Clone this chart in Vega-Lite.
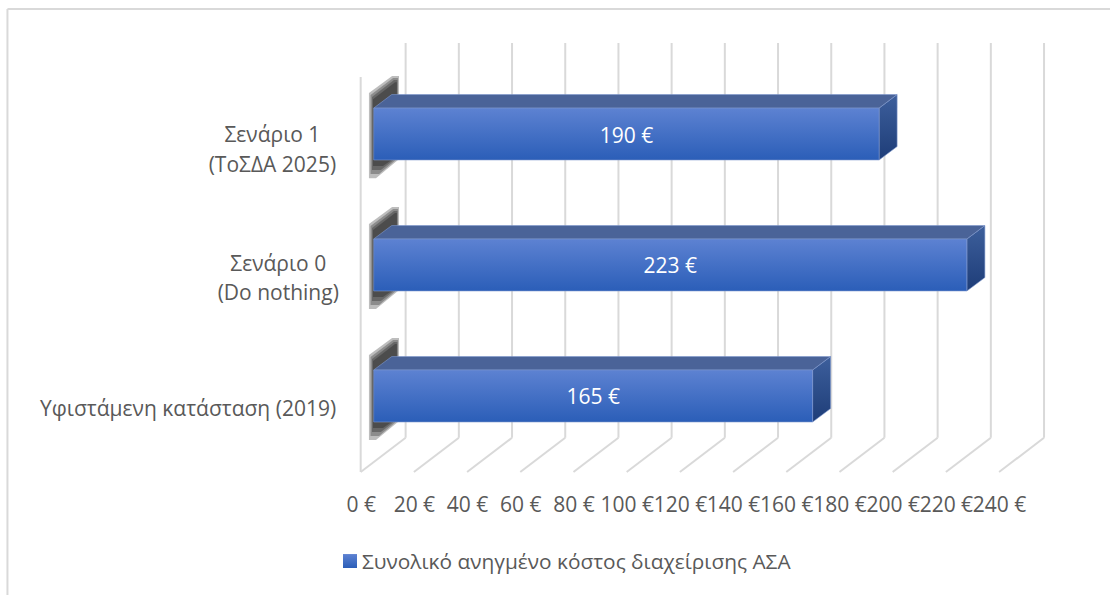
{"$schema":"https://vega.github.io/schema/vega-lite/v6.json","width":1110,"height":595,"padding":0,"autosize":{"type":"none"},"background":"white",
"config":{"view":{"stroke":null},"text":{"font":"Open Sans"},"axis":{"labelFont":"Open Sans"}},
"datasets":{
"bars":[{"scenario":"Σενάριο 1 (ΤοΣΔΑ 2025)","value":190,"label":"190 €","at":95,"low":2.37,"high":2.764,"mid":2.544},{"scenario":"Σενάριο 0 (Do nothing)","value":223,"label":"223 €","at":111.5,"low":1.375,"high":1.77,"mid":1.557},{"scenario":"Υφιστάμενη κατάσταση (2019)","value":165,"label":"165 €","at":82.5,"low":0.38,"high":0.775,"mid":0.562}],
"grid":[{"tick":0,"back":16.9},{"tick":20,"back":36.9},{"tick":40,"back":56.9},{"tick":60,"back":76.9},{"tick":80,"back":96.9},{"tick":100,"back":116.9},{"tick":120,"back":136.9},{"tick":140,"back":156.9},{"tick":160,"back":176.9},{"tick":180,"back":196.9},{"tick":200,"back":216.9},{"tick":220,"back":236.9},{"tick":240,"back":256.9}],
"top":[{"bar":"a","lv":2.764,"a":4.89,"b":194.89},{"bar":"a","lv":2.867,"a":11.66,"b":201.66},{"bar":"b","lv":1.77,"a":4.89,"b":227.89},{"bar":"b","lv":1.872,"a":11.66,"b":234.66},{"bar":"c","lv":0.775,"a":4.89,"b":169.89},{"bar":"c","lv":0.877,"a":11.66,"b":176.66}],
"side":[{"bar":"a","e":194.89,"lo":2.37,"hi":2.764},{"bar":"a","e":201.66,"lo":2.472,"hi":2.867},{"bar":"b","e":227.89,"lo":1.375,"hi":1.77},{"bar":"b","e":234.66,"lo":1.477,"hi":1.872},{"bar":"c","e":169.89,"lo":0.38,"hi":0.775},{"bar":"c","e":176.66,"lo":0.482,"hi":0.877}],
"shade":[
{"k":"a1","lv":3.007,"a":11.8,"b":14.4},{"k":"a1","lv":2.878,"a":3.1,"b":14.4},{"k":"a1","lv":2.369,"a":3.1,"b":14},{"k":"a1","lv":2.232,"a":3.1,"b":5.75},
{"k":"a2","lv":2.992,"a":12.2,"b":14},{"k":"a2","lv":2.863,"a":3.7,"b":14},{"k":"a2","lv":2.369,"a":3.7,"b":13.2},{"k":"a2","lv":2.263,"a":3.7,"b":6.9},
{"k":"a3","lv":2.977,"a":12.5,"b":13.8},{"k":"a3","lv":2.848,"a":4.25,"b":13.8},{"k":"a3","lv":2.369,"a":4.25,"b":12.4},{"k":"a3","lv":2.293,"a":4.25,"b":7.6},
{"k":"a4","lv":2.961,"a":12.9,"b":13.6},{"k":"a4","lv":2.832,"a":4.62,"b":13.6},{"k":"a4","lv":2.369,"a":4.62,"b":11.6},{"k":"a4","lv":2.324,"a":4.62,"b":8.4},
{"k":"b1","lv":2.013,"a":11.8,"b":14.4},{"k":"b1","lv":1.884,"a":3.1,"b":14.4},{"k":"b1","lv":1.375,"a":3.1,"b":14},{"k":"b1","lv":1.238,"a":3.1,"b":5.75},
{"k":"b2","lv":1.998,"a":12.2,"b":14},{"k":"b2","lv":1.869,"a":3.7,"b":14},{"k":"b2","lv":1.375,"a":3.7,"b":13.2},{"k":"b2","lv":1.269,"a":3.7,"b":6.9},
{"k":"b3","lv":1.983,"a":12.5,"b":13.8},{"k":"b3","lv":1.854,"a":4.25,"b":13.8},{"k":"b3","lv":1.375,"a":4.25,"b":12.4},{"k":"b3","lv":1.299,"a":4.25,"b":7.6},
{"k":"b4","lv":1.967,"a":12.9,"b":13.6},{"k":"b4","lv":1.838,"a":4.62,"b":13.6},{"k":"b4","lv":1.375,"a":4.62,"b":11.6},{"k":"b4","lv":1.33,"a":4.62,"b":8.4},
{"k":"c1","lv":1.018,"a":11.8,"b":14.4},{"k":"c1","lv":0.889,"a":3.1,"b":14.4},{"k":"c1","lv":0.38,"a":3.1,"b":14},{"k":"c1","lv":0.243,"a":3.1,"b":5.75},
{"k":"c2","lv":1.003,"a":12.2,"b":14},{"k":"c2","lv":0.874,"a":3.7,"b":14},{"k":"c2","lv":0.38,"a":3.7,"b":13.2},{"k":"c2","lv":0.274,"a":3.7,"b":6.9},
{"k":"c3","lv":0.988,"a":12.5,"b":13.8},{"k":"c3","lv":0.859,"a":4.25,"b":13.8},{"k":"c3","lv":0.38,"a":4.25,"b":12.4},{"k":"c3","lv":0.304,"a":4.25,"b":7.6},
{"k":"c4","lv":0.972,"a":12.9,"b":13.6},{"k":"c4","lv":0.843,"a":4.62,"b":13.6},{"k":"c4","lv":0.38,"a":4.62,"b":11.6},{"k":"c4","lv":0.335,"a":4.62,"b":8.4}],
"names":[{"t":"Σενάριο 1","cx":-33.2,"lv":2.552},{"t":"(ΤοΣΔΑ 2025)","cx":-33.2,"lv":2.324},{"t":"Σενάριο 0","cx":-31,"lv":1.572},{"t":"(Do nothing)","cx":-31,"lv":1.352},{"t":"Υφιστάμενη κατάσταση (2019)","cx":-64.9,"lv":0.471}],
"frame":[{"left":-132.8,"right":281.7,"topLv":3.516,"botLv":-0.934}],
"key":[{"series":"Συνολικό ανηγμένο κόστος διαχείρισης ΑΣΑ","x0":-6.66,"x1":-1.39,"lo":-0.729,"hi":-0.623,"tx":0.5,"ty":-0.69}]
},
"layer":[
{"data":{"name":"frame"},"mark":{"type":"rule","color":"#d9d9d9","strokeWidth":2},"encoding":{
"x":{"field":"left","type":"quantitative","scale":{"domain":[-135.6,281.7],"nice":false,"zero":false},"title":null,"axis":{"values":[0,20,40,60,80,100,120,140,160,180,200,220,240],"labelExpr":"datum.value + ' €'","domain":false,"ticks":false,"grid":false,"offset":-104,"labelPadding":3,"labelFontSize":21,"labelColor":"#595959","labelOverlap":false,"labelBound":false,"labelFlush":false,"labelLimit":200}},
"x2":{"field":"right"},"y":{"field":"topLv","type":"quantitative","scale":{"domain":[-0.934,3.585],"nice":false,"zero":false},"axis":null}}},
{"data":{"name":"frame"},"mark":{"type":"rule","color":"#d9d9d9","strokeWidth":2},"encoding":{
"x":{"field":"left","type":"quantitative"},"y":{"field":"topLv","type":"quantitative"},"y2":{"field":"botLv"}}},
{"data":{"name":"grid"},"mark":{"type":"rule","color":"#d9d9d9","strokeWidth":2},"encoding":{
"x":{"field":"back","type":"quantitative"},"y":{"datum":0.26,"type":"quantitative"},"y2":{"datum":3.258}}},
{"data":{"name":"grid"},"mark":{"type":"rule","color":"#d9d9d9","strokeWidth":2},"encoding":{
"x":{"field":"tick","type":"quantitative"},"x2":{"field":"back"},"y":{"datum":0,"type":"quantitative"},"y2":{"datum":0.26}}},
{"data":{"values":[{"tick":0}]},"mark":{"type":"rule","color":"#d9d9d9","strokeWidth":2},"encoding":{
"x":{"field":"tick","type":"quantitative"},"y":{"datum":0,"type":"quantitative"},"y2":{"datum":3}}},
{"data":{"name":"shade"},"mark":{"type":"area","orient":"horizontal","color":"#000000","opacity":0.26},"encoding":{
"y":{"field":"lv","type":"quantitative"},"x":{"field":"a","type":"quantitative","stack":null},"x2":{"field":"b"},"detail":{"field":"k"}}},
{"data":{"name":"side"},"mark":{"type":"area","orient":"vertical","stroke":"#7d97cc","strokeWidth":0.6,"fill":{"x1":0,"y1":0,"x2":0,"y2":1,"gradient":"linear","stops":[{"offset":0,"color":"#3d5f9c"},{"offset":1,"color":"#1e3d78"}]}},"encoding":{
"x":{"field":"e","type":"quantitative"},"y":{"field":"lo","type":"quantitative","stack":null},"y2":{"field":"hi"},"detail":{"field":"bar"}}},
{"data":{"name":"top"},"mark":{"type":"area","orient":"horizontal","color":"#4a6398","stroke":"#7d97cc","strokeWidth":0.6},"encoding":{
"y":{"field":"lv","type":"quantitative"},"x":{"field":"a","type":"quantitative","stack":null},"x2":{"field":"b"},"detail":{"field":"bar"}}},
{"data":{"name":"bars"},"mark":{"type":"rect","xOffset":13,"x2Offset":13,"stroke":"#7d97cc","strokeWidth":0.6,"fill":{"x1":0,"y1":0,"x2":0,"y2":1,"gradient":"linear","stops":[{"offset":0,"color":"#5d82d2"},{"offset":1,"color":"#2b5eb8"}]}},"encoding":{
"x":{"field":"value","type":"quantitative"},"x2":{"datum":0},"y":{"field":"low","type":"quantitative"},"y2":{"field":"high"}}},
{"data":{"name":"bars"},"mark":{"type":"text","color":"white","fontSize":21,"xOffset":13},"encoding":{
"x":{"field":"at","type":"quantitative"},"y":{"field":"mid","type":"quantitative"},"text":{"field":"label"}}},
{"data":{"name":"names"},"mark":{"type":"text","color":"#595959","fontSize":21},"encoding":{
"x":{"field":"cx","type":"quantitative"},"y":{"field":"lv","type":"quantitative"},"text":{"field":"t"}}},
{"data":{"name":"key"},"mark":{"type":"rect","fill":{"x1":0,"y1":0,"x2":0,"y2":1,"gradient":"linear","stops":[{"offset":0,"color":"#5d82d2"},{"offset":1,"color":"#2b5eb8"}]}},"encoding":{
"x":{"field":"x0","type":"quantitative"},"x2":{"field":"x1"},"y":{"field":"lo","type":"quantitative"},"y2":{"field":"hi"}}},
{"data":{"name":"key"},"mark":{"type":"text","color":"#595959","fontSize":20.85,"align":"left"},"encoding":{
"x":{"field":"tx","type":"quantitative"},"y":{"field":"ty","type":"quantitative"},"text":{"field":"series"}}}
]}
